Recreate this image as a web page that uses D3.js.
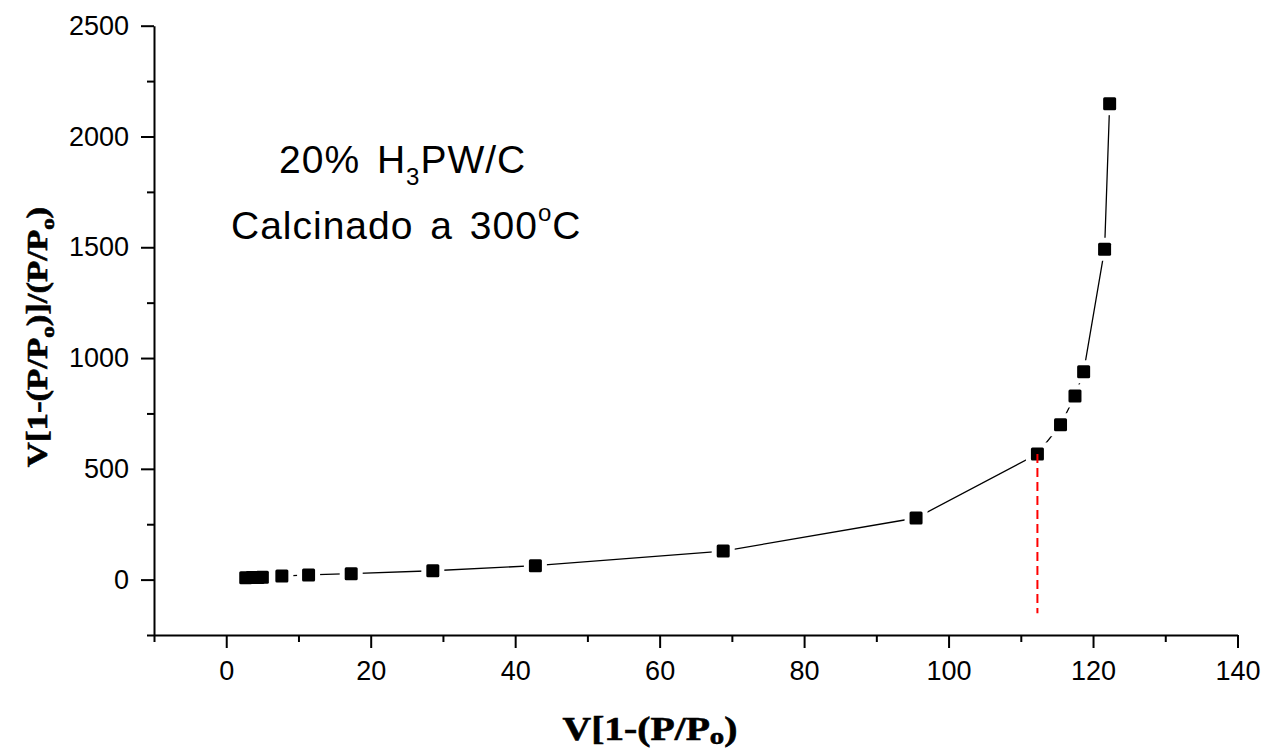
<!DOCTYPE html>
<html>
<head>
<meta charset="utf-8">
<script src="https://cdn.jsdelivr.net/npm/d3@7"></script>
<style>
  html, body { margin: 0; padding: 0; background: #fff; }
  svg { display: block; }
  .tick text { font-family: "Liberation Sans", Arial, sans-serif; font-size: 27px; fill: #000; }
  .axis path, .axis line { stroke: #000; stroke-width: 2px; }
</style>
</head>
<body>
<svg id="chart" width="1274" height="754"></svg>
<script>
// Transformed adsorption data, 20% H3PW/C calcined at 300 °C
const xValues = [2.7, 3.6, 4.4, 5.0, 7.7, 11.4, 17.3, 28.6, 42.8, 68.8, 95.5, 112.3, 115.5, 117.5, 118.7, 121.6, 122.3];
const yValues = [8, 9, 10, 11, 16, 21, 27, 40, 63, 129, 278, 567, 699, 829, 938, 1491, 2148];

// Vertical marker line (dashed red)
const markX = 112.3;
const markYTop = 567;
const markYBottom = -152;

// Axis ticks
const xMajorTicks = [0, 20, 40, 60, 80, 100, 120, 140];
const xMinorTicks = [-10, 10, 30, 50, 70, 90, 110, 130];
const yMajorTicks = [0, 500, 1000, 1500, 2000, 2500];
const yMinorTicks = [-250, 250, 750, 1250, 1750, 2250];

const points = xValues.map((x, i) => ({ x, y: yValues[i] }));

const svg = d3.select("#chart");

const x = d3.scaleLinear().domain([-10, 140]).range([154, 1237.5]);
const y = d3.scaleLinear().domain([-250, 2500]).range([635, 25.7]);

// X axis
svg.append("g").attr("class", "axis").attr("transform", `translate(0,${y(-250)})`)
  .call(d3.axisBottom(x).tickValues(xMajorTicks).tickSize(13).tickSizeOuter(0).tickPadding(13).tickFormat(d3.format("d")));
svg.append("g").attr("class", "axis").attr("transform", `translate(0,${y(-250)})`)
  .call(d3.axisBottom(x).tickValues(xMinorTicks).tickSize(7).tickSizeOuter(0).tickFormat(""))
  .select(".domain").remove();

// Y axis
svg.append("g").attr("class", "axis").attr("transform", `translate(${x(-10)},0)`)
  .call(d3.axisLeft(y).tickValues(yMajorTicks).tickSize(13).tickSizeOuter(0).tickPadding(12).tickFormat(d3.format("d")));
svg.append("g").attr("class", "axis").attr("transform", `translate(${x(-10)},0)`)
  .call(d3.axisLeft(y).tickValues(yMinorTicks).tickSize(7).tickSizeOuter(0).tickFormat(""))
  .select(".domain").remove();

// Connecting line
const line = d3.line().x(d => x(d.x)).y(d => y(d.y));
svg.append("path")
  .datum(points)
  .attr("d", line)
  .attr("fill", "none")
  .attr("stroke", "#000")
  .attr("stroke-width", 1.3);

// White gaps around each marker, then the square markers
const ms = 13, gap = 5;
svg.append("g").selectAll("rect")
  .data(points).join("rect")
  .attr("x", d => x(d.x) - ms / 2 - gap)
  .attr("y", d => y(d.y) - ms / 2 - gap)
  .attr("width", ms + 2 * gap)
  .attr("height", ms + 2 * gap)
  .attr("fill", "#fff");
svg.append("g").selectAll("rect")
  .data(points).join("rect")
  .attr("x", d => x(d.x) - ms / 2)
  .attr("y", d => y(d.y) - ms / 2)
  .attr("width", ms)
  .attr("height", ms)
  .attr("rx", 1.5)
  .attr("fill", "#000");

// Dashed red drop line
svg.append("line")
  .attr("x1", x(markX)).attr("x2", x(markX))
  .attr("y1", y(markYTop)).attr("y2", y(markYBottom))
  .attr("stroke", "#ff0000")
  .attr("stroke-width", 2)
  .attr("stroke-dasharray", "9,5");

// Annotation
const ann = svg.append("g")
  .attr("font-family", "'Liberation Sans', Arial, sans-serif")
  .attr("font-size", 39)
  .attr("fill", "#000")
  .attr("letter-spacing", 1)
  .attr("word-spacing", 5);
const t1 = ann.append("text").attr("x", 279).attr("y", 173);
t1.append("tspan").text("20% H");
t1.append("tspan").attr("font-size", 24).attr("dy", 12).text("3");
t1.append("tspan").attr("dy", -12).text("PW/C");
const t2 = ann.append("text").attr("x", 231).attr("y", 239);
t2.append("tspan").text("Calcinado a 300");
t2.append("tspan").attr("font-size", 24).attr("dy", -18).text("o");
t2.append("tspan").attr("dy", 18).text("C");

// Axis titles
const xt = svg.append("text")
  .attr("transform", "translate(650,740) scale(1.2,1)")
  .attr("text-anchor", "middle")
  .attr("font-family", "'Liberation Serif', 'Times New Roman', serif")
  .attr("font-weight", "bold")
  .attr("font-size", 33)
  .attr("fill", "#000")
  .attr("stroke", "#000")
  .attr("stroke-width", 0.6);
xt.append("tspan").text("V[1-(P/P");
xt.append("tspan").attr("font-size", 24).attr("dy", 4).text("o");
xt.append("tspan").attr("dy", -4).text(")");

const yt = svg.append("text")
  .attr("transform", "translate(47,337) rotate(-90) scale(1.2,1)")
  .attr("text-anchor", "middle")
  .attr("font-family", "'Liberation Serif', 'Times New Roman', serif")
  .attr("font-weight", "bold")
  .attr("font-size", 29)
  .attr("fill", "#000")
  .attr("stroke", "#000")
  .attr("stroke-width", 0.6);
yt.append("tspan").text("V[1-(P/P");
yt.append("tspan").attr("font-size", 19).attr("dy", 7).text("o");
yt.append("tspan").attr("dy", -7).text(")]/(P/P");
yt.append("tspan").attr("font-size", 19).attr("dy", 7).text("o");
yt.append("tspan").attr("dy", -7).text(")");
</script>
</body>
</html>
